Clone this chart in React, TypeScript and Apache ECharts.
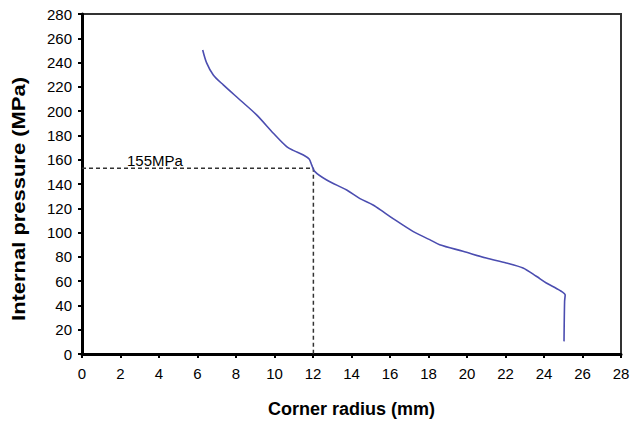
import React, { useEffect, useRef } from "react";
import * as echarts from "echarts";

const xTicks = [0, 28, 2];
const yTicks = [0, 280, 20];

const curveX = [6.27, 6.48, 6.82, 7.34, 8.21, 9.07, 9.94, 10.63, 11.0, 11.5, 11.8, 11.93, 12.1, 12.71, 13.75, 14.44, 15.12, 15.64, 16.16, 17.19, 18.06, 18.58, 19.79, 21.0, 22.04, 22.91, 23.6, 24.12, 24.82, 25.1, 25.07, 25.04];
const curveY = [250.4, 239.5, 229.8, 221.6, 209.2, 196.9, 181.8, 170.8, 167.5, 163.9, 160.5, 155.7, 150.2, 143.3, 135, 128, 122.7, 117.2, 111.5, 101, 94.2, 90, 84.6, 79, 75, 70.8, 64, 58.5, 52.4, 48.5, 43.4, 10.4];

const refX = [0, 12.02, 12.02];
const refY = [153, 153, 0];
const refLabel = "155MPa";

export default function App() {
  const ref = useRef<HTMLDivElement>(null);
  useEffect(() => {
    if (!ref.current) return;
    const chart = echarts.init(ref.current, undefined, { renderer: "svg" });
    const font = "Liberation Sans";
    chart.setOption({
      animation: false,
      backgroundColor: "#fff",
      grid: {
        left: 82,
        top: 14,
        right: 12,
        bottom: 72,
        show: true,
        borderColor: "#333",
        borderWidth: 2,
      },
      xAxis: {
        type: "value",
        min: xTicks[0],
        max: xTicks[1],
        interval: xTicks[2],
        name: "Corner radius (mm)",
        nameLocation: "middle",
        nameGap: 46,
        nameTextStyle: { fontFamily: font, fontWeight: "bold", fontSize: 18, color: "#000" },
        axisLine: { show: true, lineStyle: { color: "#000", width: 3 } },
        axisTick: { show: true, length: 4, lineStyle: { color: "#000", width: 2 } },
        axisLabel: { fontFamily: font, fontSize: 15, color: "#000", margin: 12 },
        splitLine: { show: false },
      },
      yAxis: {
        type: "value",
        min: yTicks[0],
        max: yTicks[1],
        interval: yTicks[2],
        axisLine: { show: true, lineStyle: { color: "#000", width: 3 } },
        axisTick: { show: true, length: 4, lineStyle: { color: "#000", width: 2 } },
        axisLabel: { fontFamily: font, fontSize: 15, color: "#000", margin: 10 },
        splitLine: { show: false },
      },
      graphic: [
        {
          type: "text",
          x: 19,
          y: 199,
          rotation: Math.PI / 2,
          scaleX: 1.22,
          style: {
            text: "Internal pressure (MPa)",
            font: `bold 18px "${font}"`,
            fill: "#000",
            textAlign: "center",
            textVerticalAlign: "middle",
          },
        },
        {
          type: "text",
          x: 127,
          y: 160,
          style: {
            text: refLabel,
            font: `15px "${font}"`,
            fill: "#000",
            textAlign: "left",
            textVerticalAlign: "middle",
          },
        },
      ],
      series: [
        {
          type: "line",
          data: refX.map((x, i) => [x, refY[i]]),
          symbol: "none",
          lineStyle: { color: "#333", width: 1.5, type: [4, 3] },
          z: 1,
        },
        {
          type: "line",
          data: curveX.map((x, i) => [x, curveY[i]]),
          symbol: "none",
          smooth: 0.3,
          lineStyle: { color: "#4b4db0", width: 1.6 },
          z: 2,
        },
      ],
    });
    return () => chart.dispose();
  }, []);
  return <div ref={ref} style={{ width: 633, height: 426, position: "absolute", left: 0, top: 0 }} />;
}
